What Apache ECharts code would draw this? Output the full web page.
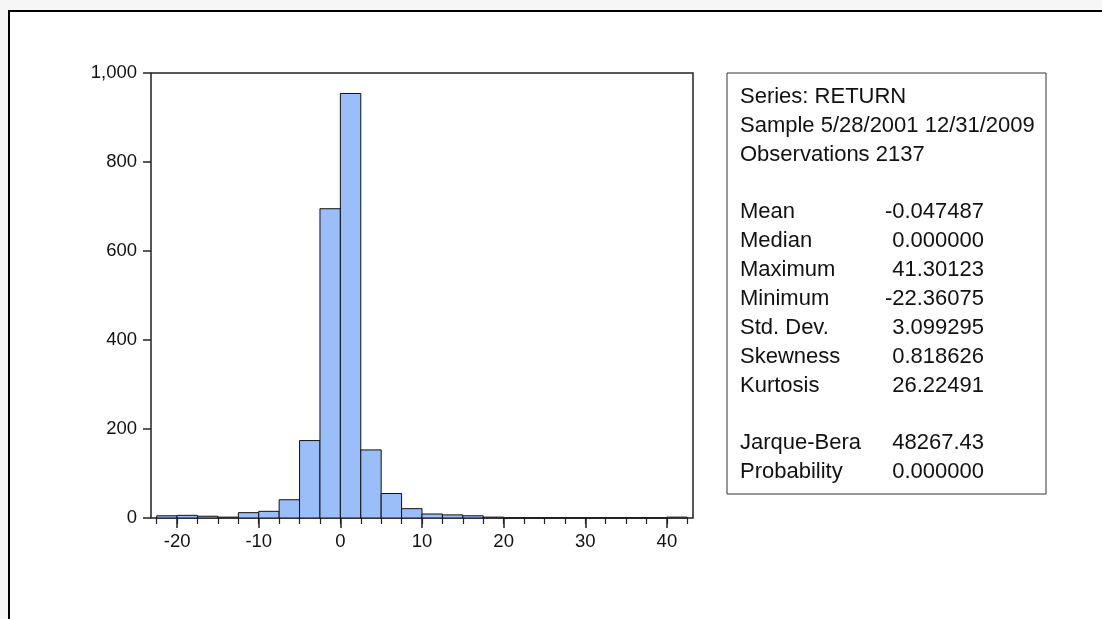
<!DOCTYPE html>
<html>
<head>
<meta charset="utf-8">
<title>Histogram of RETURN</title>
<script src="https://cdn.jsdelivr.net/npm/echarts@6/dist/echarts.min.js"></script>
<style>
  html, body { margin: 0; padding: 0; background: #f6f6f6; }
  #chart { width: 1102px; height: 619px; }
</style>
</head>
<body>
<div id="chart"></div>
<script>
// Histogram bins: lower edge of each bin (width 2.5) and the count in it
const binWidth = 2.5;
const binStarts = [-22.5, -20, -17.5, -15, -12.5, -10, -7.5, -5, -2.5, 0, 2.5, 5, 7.5,
                   10, 12.5, 15, 17.5, 20, 22.5, 25, 27.5, 30, 32.5, 35, 37.5, 40];
const binCounts = [5, 6, 4, 2, 12, 15, 41, 174, 695, 954, 153, 55, 21,
                   9, 7, 5, 2, 0, 0, 0, 0, 0, 0, 0, 0, 2];

// Axis ticks
const xLabelTicks = [-20, -10, 0, 10, 20, 30, 40];
const xMinorTicks = [-22.5, -20, -17.5, -15, -12.5, -10, -7.5, -5, -2.5, 0, 2.5, 5, 7.5, 10,
                     12.5, 15, 17.5, 20, 22.5, 25, 27.5, 30, 32.5, 35, 37.5, 40, 42.5];
const yTicks = [0, 200, 400, 600, 800, 1000];

// Descriptive statistics panel
const seriesName = 'RETURN';
const sampleRange = '5/28/2001 12/31/2009';
const observations = 2137;
const statNames = ['Mean', 'Median', 'Maximum', 'Minimum', 'Std. Dev.', 'Skewness', 'Kurtosis'];
const statValues = ['-0.047487', '0.000000', '41.30123', '-22.36075', '3.099295', '0.818626', '26.22491'];
const testNames = ['Jarque-Bera', 'Probability'];
const testValues = ['48267.43', '0.000000'];

const FONT = '"Liberation Sans", Arial, sans-serif';
const INK = '#111';

const histData = binStarts.map((s, i) => [s, s + binWidth, binCounts[i]]);

// Text lines of the stats panel
const panelLines = [];
panelLines.push({ name: 'Series: ' + seriesName });
panelLines.push({ name: 'Sample ' + sampleRange });
panelLines.push({ name: 'Observations ' + observations });
panelLines.push(null);
statNames.forEach((n, i) => panelLines.push({ name: n, value: statValues[i] }));
panelLines.push(null);
testNames.forEach((n, i) => panelLines.push({ name: n, value: testValues[i] }));

const panel = { x: 727, y: 73, w: 319, h: 421, textX: 740, valueRight: 984, firstLine: 97, lineStep: 28.85 };
const panelGraphics = [{
  type: 'rect', z: 10,
  shape: { x: panel.x, y: panel.y, width: panel.w, height: panel.h },
  style: { fill: '#fff', stroke: '#333', lineWidth: 1 }
}];
panelLines.forEach((ln, i) => {
  if (!ln) return;
  const y = panel.firstLine + i * panel.lineStep;
  panelGraphics.push({
    type: 'text', z: 11, x: panel.textX, y: y,
    style: { text: ln.name, font: '22px ' + FONT, fill: INK, verticalAlign: 'middle' }
  });
  if (ln.value !== undefined) {
    panelGraphics.push({
      type: 'text', z: 11, x: panel.valueRight, y: y,
      style: { text: ln.value, font: '22px ' + FONT, fill: INK, align: 'right', verticalAlign: 'middle' }
    });
  }
});

const chart = echarts.init(document.getElementById('chart'), null, { renderer: 'canvas' });

chart.setOption({
  animation: false,
  backgroundColor: 'transparent',
  textStyle: { fontFamily: FONT },
  graphic: [
    // outer frame
    { type: 'rect', z: -10, silent: true,
      shape: { x: 9, y: 11, width: 1200, height: 700 },
      style: { fill: '#fff', stroke: '#000', lineWidth: 2 } }
  ].concat(panelGraphics),
  grid: {
    left: 151, right: 409, top: 73, bottom: 101,
    show: true, backgroundColor: '#fff', borderColor: '#222', borderWidth: 1.5
  },
  xAxis: [
    {
      type: 'value', min: -23.2, max: 43.2,
      axisLine: { show: false, onZero: false },
      splitLine: { show: false },
      axisTick: { show: true, customValues: xLabelTicks, length: 10, lineStyle: { color: '#222', width: 1.5 } },
      axisLabel: { customValues: xLabelTicks, margin: 14, fontSize: 18.5, color: INK, fontFamily: FONT }
    },
    {
      type: 'value', min: -23.2, max: 43.2, position: 'bottom',
      axisLine: { show: false, onZero: false },
      splitLine: { show: false },
      axisTick: { show: true, customValues: xMinorTicks, length: 6, lineStyle: { color: '#222', width: 1.2 } },
      axisLabel: { show: false }
    }
  ],
  yAxis: {
    type: 'value', min: 0, max: 1000, interval: 200, position: 'left',
    axisLine: { show: false, onZero: false },
    splitLine: { show: false },
    axisTick: { show: true, length: 8, customValues: yTicks, lineStyle: { color: '#222', width: 1.5 } },
    axisLabel: {
      customValues: yTicks, margin: 14, fontSize: 18.5, color: INK, fontFamily: FONT,
      formatter: v => v.toLocaleString('en-US')
    }
  },
  series: [{
    type: 'custom',
    xAxisIndex: 0,
    data: histData,
    renderItem: function (params, api) {
      const p0 = api.coord([api.value(0), 0]);
      const p1 = api.coord([api.value(1), api.value(2)]);
      return {
        type: 'rect',
        shape: { x: p0[0], y: p1[1], width: p1[0] - p0[0], height: p0[1] - p1[1] },
        style: { fill: '#9bbef9', stroke: '#111', lineWidth: 1 }
      };
    },
    encode: { x: [0, 1], y: 2 }
  }]
});
</script>
</body>
</html>
